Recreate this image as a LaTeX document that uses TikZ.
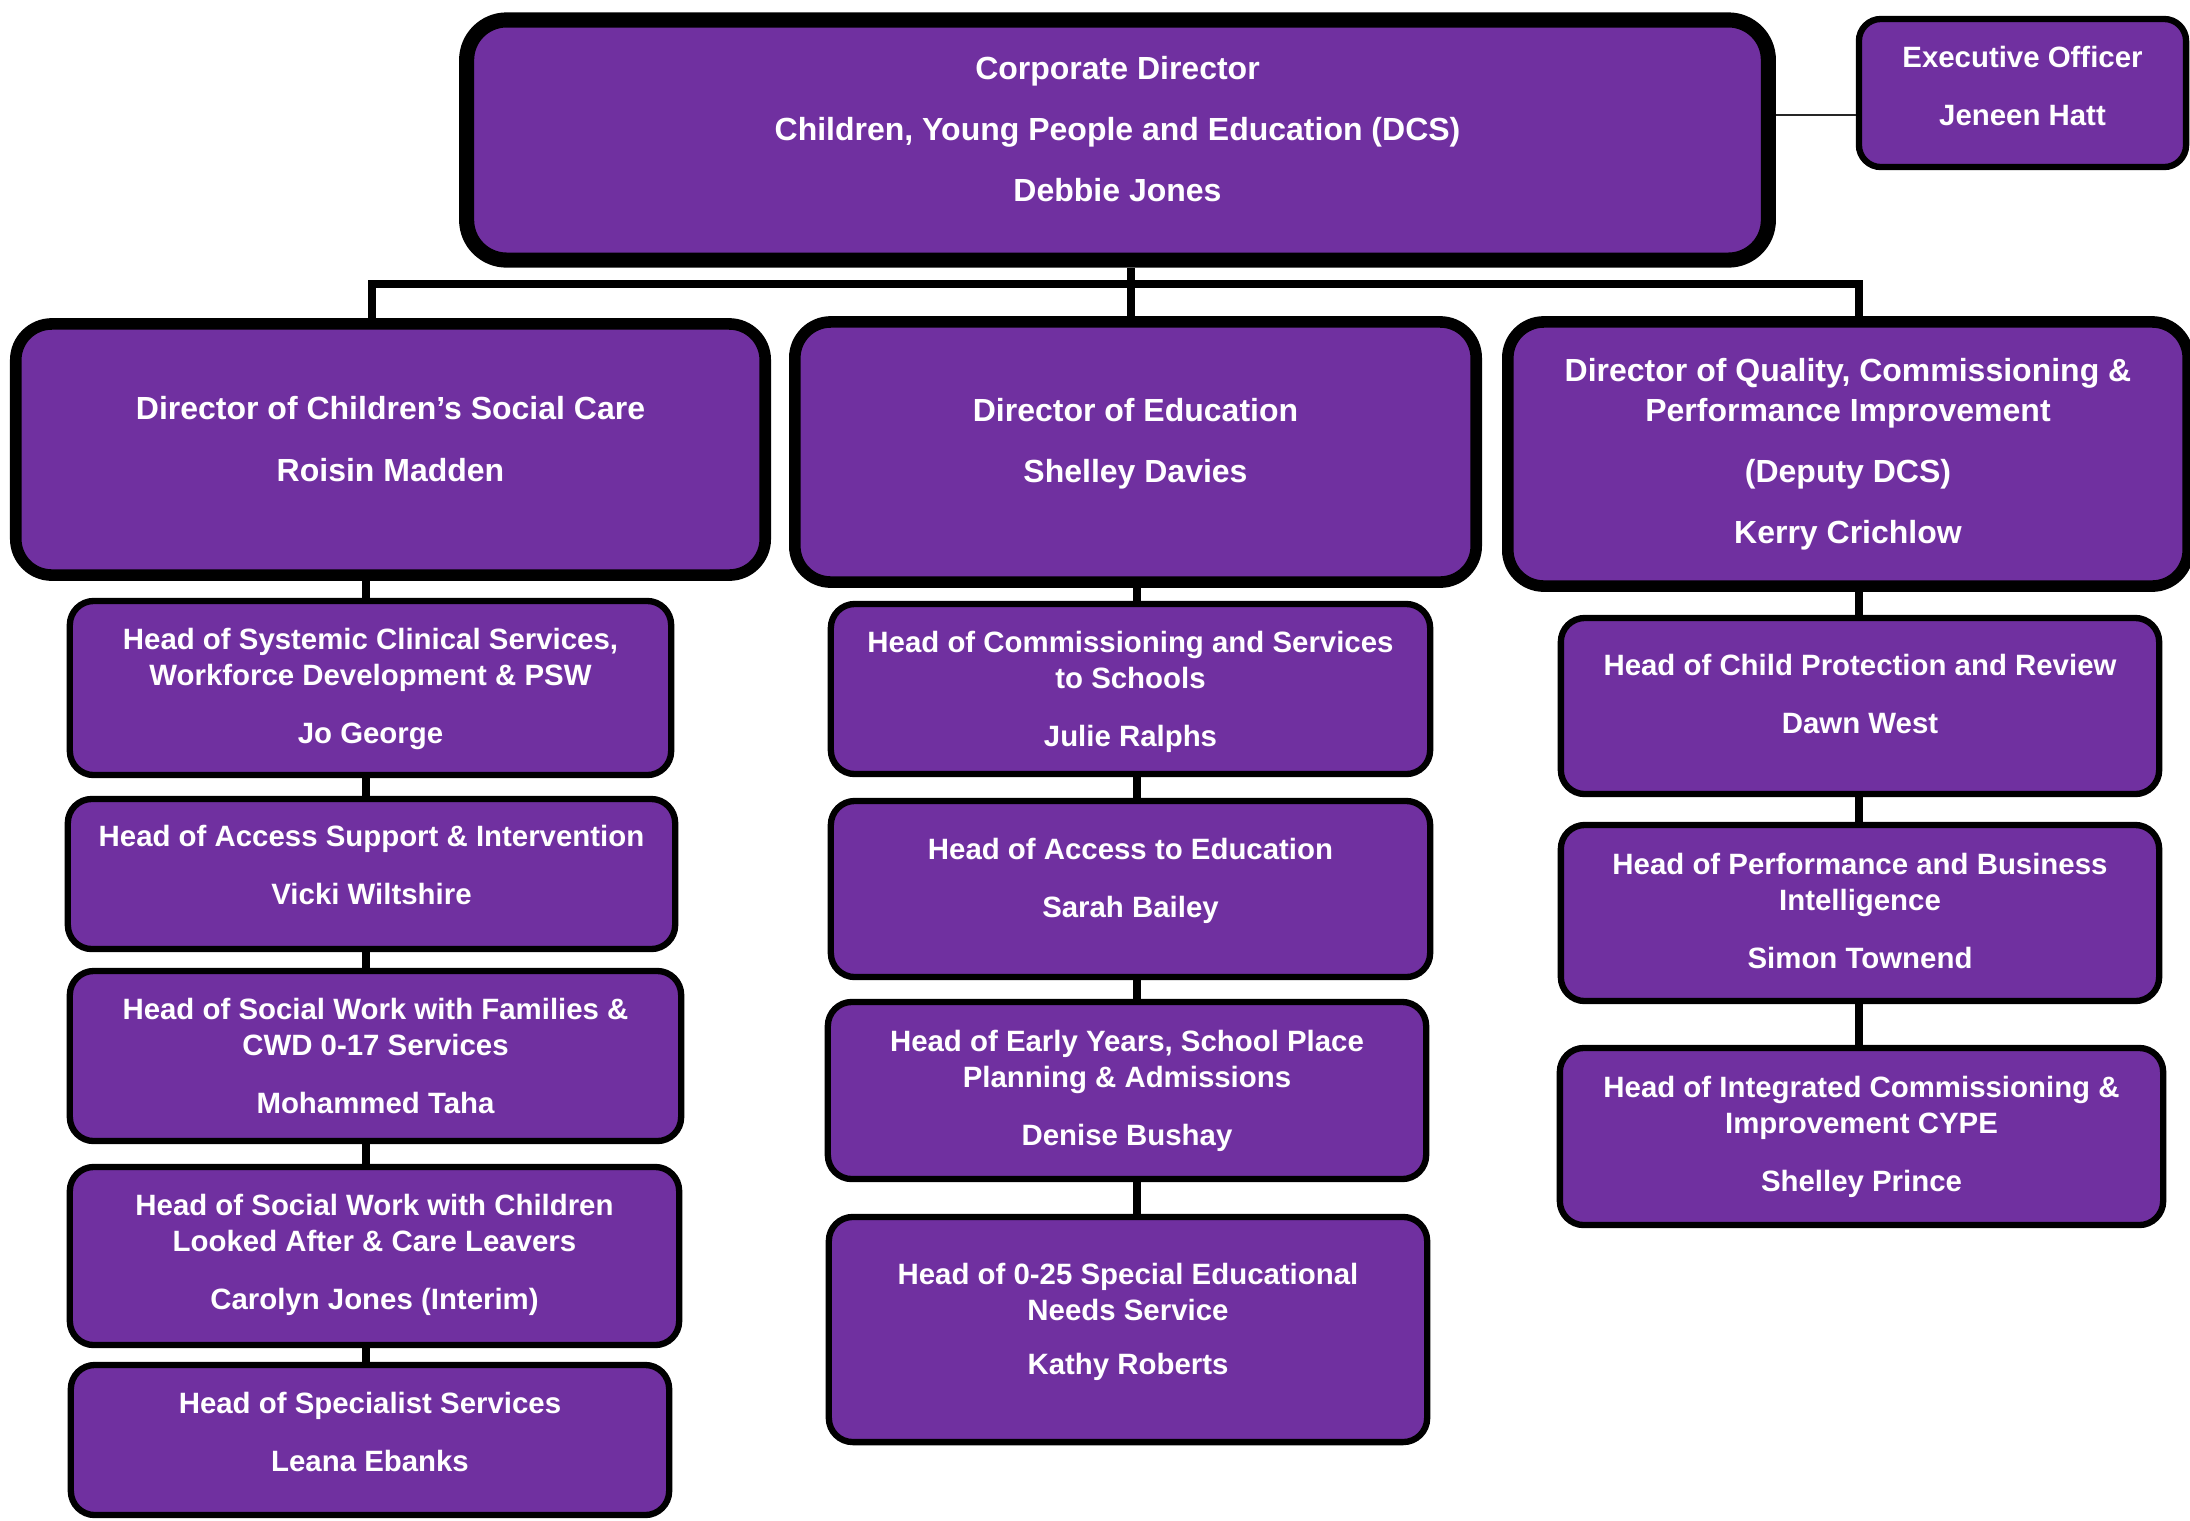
\documentclass[tikz,border=0pt]{standalone}
\usepackage{fontspec}
\setmainfont{Liberation Sans}
\definecolor{cypepurple}{HTML}{7030A0}

\begin{document}
\begin{tikzpicture}[x=0.01cm,y=-0.01cm,
  box/.style={draw=black, fill=cypepurple, line width=1.8pt, rounded corners=0.24cm, inner sep=0pt},
  dirbox/.style={box, line width=3.3pt, rounded corners=0.36cm},
  topbox/.style={box, line width=4.3pt, rounded corners=0.4cm},
  bigtxt/.style={text=white, align=center, font=\fontsize{9.1}{11.4}\selectfont\bfseries},
  smalltxt/.style={text=white, align=center, font=\fontsize{8.36}{10.24}\selectfont\bfseries},
  link/.style={draw=black, line width=2.3pt}]

\useasboundingbox (0,0) rectangle (2190,1520);

% top row
\node[topbox, minimum width=13.01cm, minimum height=2.40cm] (corp) at (1117.5,140) {};
\node[bigtxt] (corp-t) at (1117.5,129) {Corporate Director\\[6pt]Children, Young People and Education (DCS)\\[6pt]Debbie Jones};

\node[box, minimum width=3.27cm, minimum height=1.48cm, rounded corners=0.22cm] (exec) at (2022.5,93) {};
\node[smalltxt] (exec-t) at (2022.5,86) {Executive Officer\\[6.3pt]Jeneen Hatt};

% directors
\node[dirbox, minimum width=7.49cm, minimum height=2.51cm] (dcsc) at (390.5,449.5) {};
\node[bigtxt] (dcsc-t) at (390.5,439) {Director of Children’s Social Care\\[6pt]Roisin Madden};

\node[dirbox, minimum width=6.81cm, minimum height=2.60cm] (dired) at (1135.5,452) {};
\node[bigtxt] (dired-t) at (1135.5,444) {Director of Education\\[6pt]Shelley Davies};

\node[dirbox, minimum width=6.80cm, minimum height=2.64cm] (dqcpi) at (1848,454) {};
\node[bigtxt] (dqcpi-t) at (1848,454) {Director of Quality, Commissioning \&\\Performance Improvement\\[6pt](Deputy DCS)\\[6pt]Kerry Crichlow};

% social care heads
\node[box, minimum width=6.01cm, minimum height=1.74cm] (h1) at (370.5,688) {};
\node[smalltxt] (h1-t) at (370.5,689) {Head of Systemic Clinical Services,\\Workforce Development \& PSW\\[6.3pt]Jo George};

\node[box, minimum width=6.07cm, minimum height=1.50cm] (h2) at (371.5,874) {};
\node[smalltxt] (h2-t) at (371.5,865) {Head of Access Support \& Intervention\\[6.3pt]Vicki Wiltshire};

\node[box, minimum width=6.11cm, minimum height=1.70cm] (h3) at (375.5,1056) {};
\node[smalltxt] (h3-t) at (375.5,1056) {Head of Social Work with Families \&\\CWD 0-17 Services\\[6.3pt]Mohammed Taha};

\node[box, minimum width=6.09cm, minimum height=1.78cm] (h4) at (374.5,1256) {};
\node[smalltxt] (h4-t) at (374.5,1255) {Head of Social Work with Children\\Looked After \& Care Leavers\\[6.3pt]Carolyn Jones (Interim)};

\node[box, minimum width=5.98cm, minimum height=1.50cm] (h5) at (370,1440) {};
\node[smalltxt] (h5-t) at (370,1432) {Head of Specialist Services\\[6.3pt]Leana Ebanks};

% education heads
\node[box, minimum width=5.99cm, minimum height=1.70cm] (e1) at (1130.5,689) {};
\node[smalltxt] (e1-t) at (1130.5,692) {Head of Commissioning and Services\\to Schools\\[6.3pt]Julie Ralphs};

\node[box, minimum width=5.99cm, minimum height=1.76cm] (e2) at (1130.5,889) {};
\node[smalltxt] (e2-t) at (1130.5,881) {Head of Access to Education\\[6.3pt]Sarah Bailey};

\node[box, minimum width=5.98cm, minimum height=1.77cm] (e3) at (1127,1090.5) {};
\node[smalltxt] (e3-t) at (1127,1091) {Head of Early Years, School Place\\Planning \& Admissions\\[6.3pt]Denise Bushay};

\node[box, minimum width=5.98cm, minimum height=2.25cm] (e4) at (1128,1329.5) {};
\node[smalltxt] (e4-t) at (1128,1322) {Head of 0-25 Special Educational\\Needs Service\\[5pt]Kathy Roberts};

% quality heads
\node[box, minimum width=5.98cm, minimum height=1.76cm] (q1) at (1860,706) {};
\node[smalltxt] (q1-t) at (1860,694) {Head of Child Protection and Review\\[6.3pt]Dawn West};

\node[box, minimum width=5.98cm, minimum height=1.76cm] (q2) at (1860,913) {};
\node[smalltxt] (q2-t) at (1860,911) {Head of Performance and Business\\Intelligence\\[6.3pt]Simon Townend};

\node[box, minimum width=6.03cm, minimum height=1.77cm] (q3) at (1861.5,1136.5) {};
\node[smalltxt] (q3-t) at (1861.5,1137) {Head of Integrated Commissioning \&\\Improvement CYPE\\[6.3pt]Shelley Prince};

% connectors
\coordinate (busL) at (372,284);
\coordinate (busM) at (1131,284);
\coordinate (busR) at (1859,284);
\coordinate (eo) at (0,115);
\coordinate (c1) at (366,0);
\coordinate (c2) at (1137,0);
\coordinate (c3) at (1859,0);

\draw[link] (dcsc.north -| busL) -- (busL) -- (busR) -- (dqcpi.north -| busR);
\draw[link] (corp.south -| busM) -- (dired.north -| busM);
\draw[draw=black!85, line width=0.45pt] (corp.east |- eo) -- (exec.west |- eo);

\draw[link] (dcsc.south -| c1) -- (h1.north -| c1);
\draw[link] (h1.south -| c1) -- (h2.north -| c1);
\draw[link] (h2.south -| c1) -- (h3.north -| c1);
\draw[link] (h3.south -| c1) -- (h4.north -| c1);
\draw[link] (h4.south -| c1) -- (h5.north -| c1);

\draw[link] (dired.south -| c2) -- (e1.north -| c2);
\draw[link] (e1.south -| c2) -- (e2.north -| c2);
\draw[link] (e2.south -| c2) -- (e3.north -| c2);
\draw[link] (e3.south -| c2) -- (e4.north -| c2);

\draw[link] (dqcpi.south -| c3) -- (q1.north -| c3);
\draw[link] (q1.south -| c3) -- (q2.north -| c3);
\draw[link] (q2.south -| c3) -- (q3.north -| c3);

\end{tikzpicture}
\end{document}
